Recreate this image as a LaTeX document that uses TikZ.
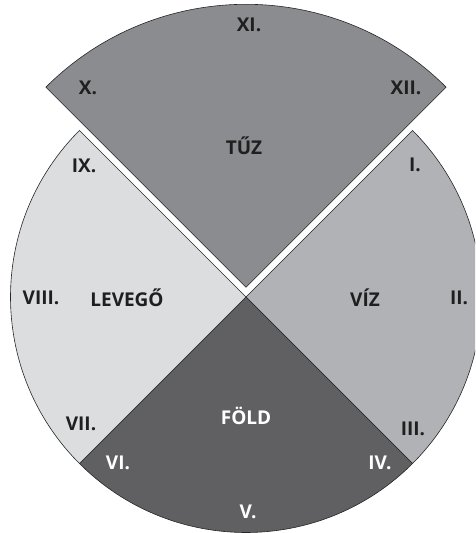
\documentclass[tikz,border=0pt]{standalone}
\usepackage{fontspec}
\setmainfont{Open Sans}
\usetikzlibrary{positioning}

\definecolor{tuzgray}{HTML}{8B8C8F}
\definecolor{vizgray}{HTML}{B1B2B5}
\definecolor{levegogray}{HTML}{DCDDDF}
\definecolor{foldgray}{HTML}{606062}
\definecolor{inkgray}{HTML}{1F1F20}

\begin{document}
\begin{tikzpicture}[x=1pt, y=1pt,
sector/.style={draw=black!85, line width=0.6pt},
numeral/.style={font=\bfseries\fontsize{19}{22}\selectfont, text=inkgray},
element/.style={font=\bfseries\fontsize{19}{22}\selectfont, text=inkgray},
onfold/.style={text=white},
]
\clip (-246,-236) rectangle (229,297);

%Sectors
\filldraw [sector, fill=tuzgray] (0,9.7) -- ++(135:283) arc[start angle=135, end angle=45, radius=283] -- cycle;
\filldraw [sector, fill=vizgray] (0,0) -- (45:235.5) arc[start angle=45, end angle=-45, radius=235.5] -- cycle;
\filldraw [sector, fill=foldgray] (0,0) -- (-45:235.5) arc[start angle=-45, end angle=-135, radius=235.5] -- cycle;
\filldraw [sector, fill=levegogray] (0,0) -- (-135:235.5) arc[start angle=-135, end angle=-225, radius=235.5] -- cycle;

%Nodes
\node [element] (tuz) at (-2,151) {TŰZ};
\node [element] (levego) at (-119,-1) {LEVEGŐ};
\node [element] (viz) at (119,-1) {VÍZ};
\node [element, onfold] (fold) at (0,-119) {FÖLD};

\node [numeral] (n1) at (169,132) {I.};
\node [numeral] (n2) at (213,-1) {II.};
\node [numeral] (n3) at (167,-132) {III.};
\node [numeral, onfold] (n4) at (134,-166) {IV.};
\node [numeral, onfold] (n5) at (2,-215) {V.};
\node [numeral, onfold] (n6) at (-128,-166) {VI.};
\node [numeral] (n7) at (-165,-127) {VII.};
\node [numeral] (n8) at (-205,-1) {VIII.};
\node [numeral] (n9) at (-162,131) {IX.};
\node [numeral] (n10) at (-158,209) {X.};
\node [numeral] (n11) at (3,272) {XI.};
\node [numeral] (n12) at (160,209) {XII.};
\end{tikzpicture}
\end{document}
